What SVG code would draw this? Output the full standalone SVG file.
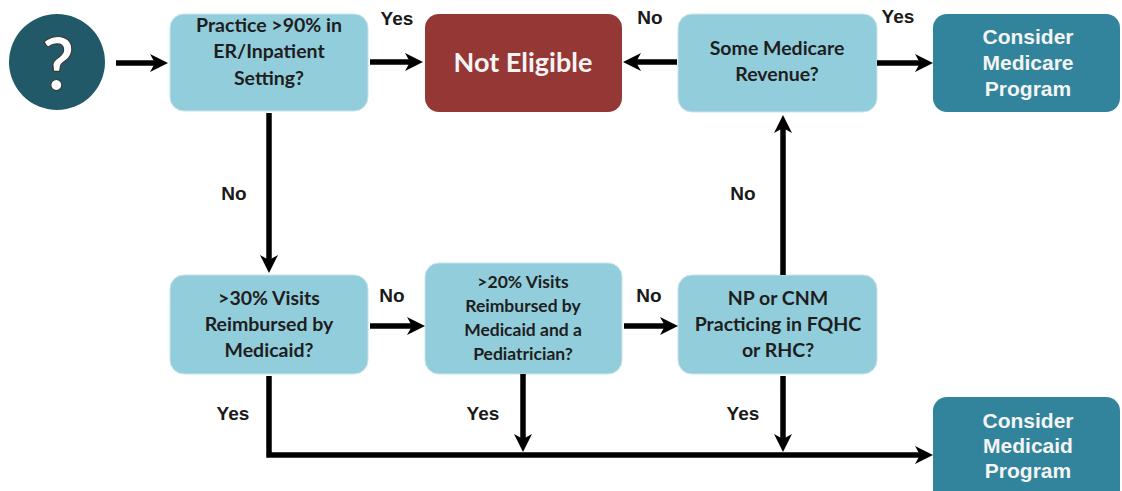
<svg xmlns="http://www.w3.org/2000/svg" width="1122" height="491" viewBox="0 0 1122 491">
<style>
.q{fill:#92CDDC;stroke:#c9e3ea;stroke-width:1}
.qt{font-family:Lato,"Open Sans",sans-serif;font-weight:bold;font-size:19.5px;fill:#1e1e1e;text-anchor:middle}
.qt2{font-family:Lato,"Open Sans",sans-serif;font-weight:bold;font-size:17.5px;fill:#1e1e1e;text-anchor:middle}
.res{fill:#31849B}
.rt{font-family:"Liberation Sans",Arial,sans-serif;font-weight:bold;font-size:21px;fill:#f4f4f4;text-anchor:middle}
.lbl{font-family:"Liberation Sans",Arial,sans-serif;font-weight:bold;font-size:19px;fill:#1a1a1a;text-anchor:middle}
.c{fill:none;stroke:#000;stroke-width:5.5;marker-end:url(#ah)}
</style>
<defs>
<marker id="ah" viewBox="0 0 18 18" refX="10" refY="9" markerWidth="18" markerHeight="18" markerUnits="userSpaceOnUse" orient="auto">
<path d="M0,0 L18,9 L0,18 L5,9 z" fill="#000"/>
</marker>
</defs>
<rect width="1122" height="491" fill="#fff"/>

<g id="start">
<circle cx="57" cy="62" r="48" fill="#215968"/>
<text x="58" y="90" font-family="Lato,'Open Sans',sans-serif" font-weight="bold" font-size="72" fill="#fff" stroke="#3a3a3a" stroke-width="1.2" text-anchor="middle">?</text>
</g>

<g id="practice">
<rect class="q" x="170" y="14" width="198" height="97" rx="14"/>
<text class="qt" x="269" y="32">Practice &gt;90% in</text>
<text class="qt" x="269" y="58">ER/Inpatient</text>
<text class="qt" x="269" y="85">Setting?</text>
</g>

<g id="not-eligible">
<rect x="425" y="14" width="197" height="98" rx="14" fill="#953735"/>
<text x="523" y="72" font-family="Lato,'Open Sans',sans-serif" font-weight="bold" font-size="27" fill="#f4f4f4" text-anchor="middle">Not Eligible</text>
</g>

<g id="medicare-revenue">
<rect class="q" x="678" y="14" width="199" height="98" rx="14"/>
<text class="qt" x="777" y="55">Some Medicare</text>
<text class="qt" x="777" y="81">Revenue?</text>
</g>

<g id="consider-medicare">
<rect class="res" x="933" y="14" width="187" height="98" rx="14"/>
<text class="rt" x="1028" y="44">Consider</text>
<text class="rt" x="1028" y="70">Medicare</text>
<text class="rt" x="1028" y="96">Program</text>
</g>

<g id="medicaid30">
<rect class="q" x="170" y="275" width="198" height="99" rx="14"/>
<text class="qt" x="269" y="305">&gt;30% Visits</text>
<text class="qt" x="269" y="331">Reimbursed by</text>
<text class="qt" x="269" y="357">Medicaid?</text>
</g>

<g id="medicaid20">
<rect class="q" x="425" y="263" width="197" height="111" rx="14"/>
<text class="qt2" x="523" y="288">&gt;20% Visits</text>
<text class="qt2" x="523" y="312">Reimbursed by</text>
<text class="qt2" x="523" y="336">Medicaid and a</text>
<text class="qt2" x="523" y="360">Pediatrician?</text>
</g>

<g id="np-cnm">
<rect class="q" x="678" y="275" width="199" height="99" rx="14"/>
<text class="qt" x="778" y="305">NP or CNM</text>
<text class="qt" x="778" y="331">Practicing in FQHC</text>
<text class="qt" x="778" y="357">or RHC?</text>
</g>

<g id="consider-medicaid">
<rect class="res" x="933" y="397" width="187" height="110" rx="14"/>
<text class="rt" x="1028" y="428">Consider</text>
<text class="rt" x="1028" y="453">Medicaid</text>
<text class="rt" x="1028" y="478">Program</text>
</g>

<g id="connectors">
<path class="c" d="M116,63 H160"/>
<path class="c" d="M370,62 H415"/>
<path class="c" d="M677,62 H631"/>
<path class="c" d="M877,63 H925"/>
<path class="c" d="M269,113 V265"/>
<path class="c" d="M370,326 H417"/>
<path class="c" d="M624,326 H670"/>
<path class="c" d="M783,275 V123"/>
<path class="c" d="M269,376 V455 H925" stroke-linejoin="miter"/>
<path class="c" d="M523,374 V444"/>
<path class="c" d="M783,376 V444"/>
<text class="lbl" x="397" y="25">Yes</text>
<text class="lbl" x="650" y="24">No</text>
<text class="lbl" x="898" y="23">Yes</text>
<text class="lbl" x="234" y="200">No</text>
<text class="lbl" x="743" y="200">No</text>
<text class="lbl" x="392" y="302">No</text>
<text class="lbl" x="649" y="302">No</text>
<text class="lbl" x="233" y="420">Yes</text>
<text class="lbl" x="483" y="420">Yes</text>
<text class="lbl" x="743" y="420">Yes</text>
</g>
</svg>
